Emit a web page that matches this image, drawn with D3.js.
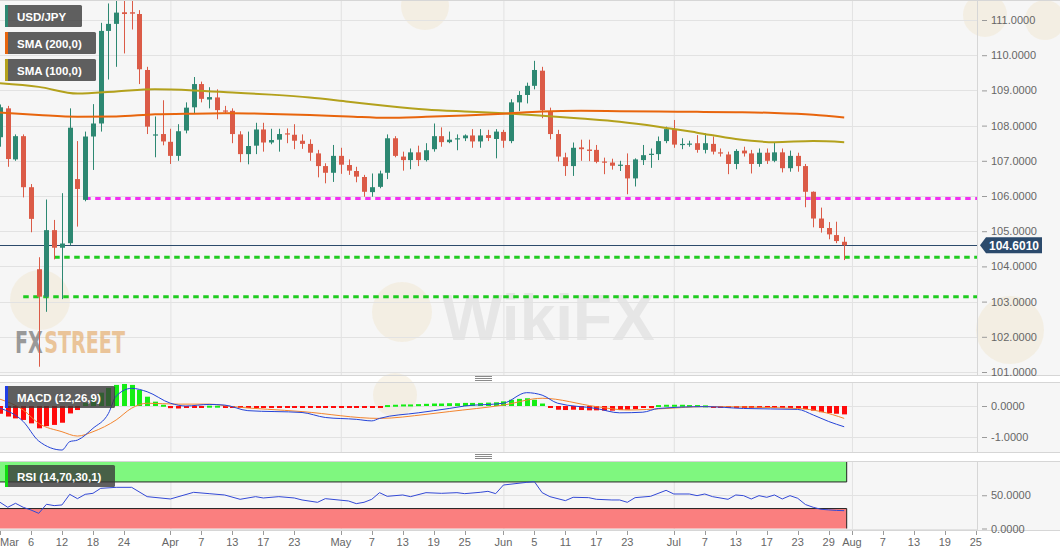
<!DOCTYPE html>
<html>
<head>
<meta charset="utf-8">
<script src="https://cdn.jsdelivr.net/npm/d3@7"></script>
<style>
    html, body { margin: 0; padding: 0; background: #fff; }
    svg { display: block; font-family: "Liberation Sans", Arial, sans-serif; }
</style>
</head>
<body>
<svg id="chart" width="1060" height="555"></svg>
<script>
// -- DATA: daily USD/JPY candles, 2 Mar .. 31 Jul 2020 --
const opens = [107.67, 108.49, 107.04, 107.70, 106.25, 103.92, 103.14, 105.03, 104.53, 104.66,
    106.48, 105.89, 107.69, 108.06, 110.69, 110.89, 111.22, 111.22, 111.17, 109.58,
    107.72, 107.76, 107.54, 107.14, 107.86, 108.52, 109.18, 108.74, 108.80, 108.43,
    108.42, 107.75, 107.19, 107.43, 107.89, 107.52, 107.60, 107.78, 107.74, 107.57,
    107.48, 107.21, 106.85, 106.66, 107.14, 106.88, 106.71, 106.54, 106.11, 106.26,
    106.66, 107.64, 107.12, 107.02, 107.24, 107.02, 107.33, 107.70, 107.53, 107.62,
    107.64, 107.72, 107.55, 107.73, 107.62, 107.82, 107.56, 108.66, 108.87, 109.13,
    109.56, 108.39, 107.76, 107.10, 106.85, 107.38, 107.32, 107.31, 106.98, 106.95,
    106.86, 106.88, 106.50, 107.02, 107.17, 107.19, 107.56, 107.90, 107.46, 107.47,
    107.50, 107.31, 107.48, 107.24, 107.18, 106.91, 107.29, 107.21, 106.91, 107.23,
    107.00, 107.24, 106.79, 107.14, 106.85, 106.12, 105.36, 105.09, 104.89, 104.70];
const highs = [108.60, 108.56, 107.75, 107.75, 106.34, 104.26, 105.90, 105.32, 106.08, 108.49,
    107.56, 107.83, 108.61, 110.92, 111.47, 111.90, 112.00, 111.90, 111.28, 109.67,
    108.26, 108.72, 107.91, 108.04, 108.66, 109.38, 109.25, 109.09, 109.03, 108.56,
    108.49, 107.84, 107.83, 108.08, 108.08, 107.91, 107.91, 107.92, 108.04, 107.75,
    107.61, 107.31, 106.93, 107.45, 107.37, 107.04, 106.83, 106.60, 106.64, 106.72,
    107.75, 107.70, 107.26, 107.35, 107.43, 107.50, 108.06, 107.95, 107.83, 107.75,
    107.75, 107.90, 107.90, 107.88, 107.90, 107.88, 108.75, 108.98, 109.22, 109.84,
    109.67, 108.51, 107.88, 107.23, 107.52, 107.60, 107.60, 107.45, 107.09, 107.06,
    107.00, 107.21, 107.07, 107.45, 107.35, 107.69, 107.97, 108.16, 107.64, 107.57,
    107.73, 107.78, 107.69, 107.35, 107.26, 107.33, 107.40, 107.31, 107.35, 107.35,
    107.52, 107.35, 107.29, 107.23, 106.91, 106.13, 105.67, 105.26, 105.27, 104.84];
const lows = [107.40, 106.83, 107.00, 105.96, 104.97, 101.15, 102.71, 104.20, 103.07, 104.60,
    105.13, 105.85, 106.74, 107.83, 109.31, 109.67, 110.05, 110.73, 109.18, 107.76,
    107.10, 107.44, 106.91, 107.00, 107.78, 108.35, 108.66, 108.49, 108.18, 108.33,
    107.50, 106.96, 106.90, 107.19, 107.26, 107.47, 107.26, 107.50, 107.33, 107.34,
    107.00, 106.53, 106.36, 106.40, 106.63, 106.60, 106.39, 105.98, 105.98, 106.22,
    106.48, 107.10, 106.72, 106.76, 106.85, 106.98, 107.26, 107.40, 107.50, 107.30,
    107.56, 107.37, 107.37, 107.56, 107.07, 107.37, 107.50, 108.41, 108.63, 109.03,
    108.21, 107.61, 106.98, 106.57, 106.57, 107.00, 106.99, 106.93, 106.62, 106.75,
    106.71, 106.05, 106.27, 106.88, 106.80, 107.02, 107.50, 107.37, 107.33, 107.40,
    107.23, 107.21, 107.18, 107.12, 106.62, 106.76, 107.12, 106.64, 106.83, 106.91,
    106.96, 106.67, 106.69, 106.69, 105.68, 105.11, 104.96, 104.77, 104.66, 104.18];
const closes = [108.52, 107.05, 107.70, 106.25, 105.35, 103.14, 105.03, 104.53, 104.65, 107.94,
    106.20, 107.69, 108.06, 110.69, 110.89, 111.21, 111.17, 111.18, 109.60, 107.97,
    107.75, 107.55, 107.14, 107.84, 108.51, 109.18, 108.76, 108.81, 108.44, 108.41,
    107.76, 107.19, 107.42, 107.89, 107.52, 107.59, 107.76, 107.76, 107.57, 107.48,
    107.23, 106.85, 106.66, 107.14, 106.89, 106.72, 106.55, 106.12, 106.25, 106.64,
    107.64, 107.14, 107.02, 107.24, 107.02, 107.30, 107.70, 107.53, 107.60, 107.64,
    107.72, 107.55, 107.72, 107.65, 107.83, 107.57, 108.66, 108.87, 109.13, 109.58,
    108.44, 107.76, 107.12, 106.85, 107.37, 107.33, 107.28, 106.97, 106.95, 106.86,
    106.89, 106.50, 107.04, 107.16, 107.20, 107.56, 107.90, 107.46, 107.48, 107.49,
    107.31, 107.50, 107.26, 107.22, 106.91, 107.28, 107.21, 106.91, 107.23, 107.00,
    107.24, 106.79, 107.14, 106.85, 106.12, 105.36, 105.09, 104.91, 104.72, 104.601];

// moving averages, read at every fifth candle
const smaIdx = [0, 5, 10, 15, 20, 25, 30, 35, 40, 45, 50, 55, 60, 65, 70, 75, 80, 85, 90, 95, 100, 105, 109];
const sma200 = [108.37, 108.30, 108.25, 108.26, 108.32, 108.34, 108.35, 108.33, 108.30, 108.26, 108.22, 108.25,
    108.29, 108.34, 108.40, 108.42, 108.41, 108.40, 108.39, 108.38, 108.36, 108.31, 108.23];
const sma100 = [109.20, 109.10, 108.91, 108.97, 109.03, 109.00, 108.94, 108.88, 108.80, 108.68, 108.56, 108.46,
    108.40, 108.35, 108.28, 108.20, 108.11, 107.97, 107.80, 107.62, 107.53, 107.56, 107.53];

// horizontal levels drawn on the chart
const levelValues = [105.93, 104.26, 103.14];
const levelStart = [11, 7, 3];
const levelColors = ["#f22ff2", "#1fcc1f", "#1fcc1f"];
const lastPrice = 104.601;

// MACD (12,26,9)
const macdHist = [-0.25, -0.34, -0.40, -0.45, -0.56, -0.72, -0.65, -0.61, -0.54, -0.24,
    -0.13, 0.10, 0.26, 0.43, 0.58, 0.68, 0.71, 0.68, 0.52, 0.30,
    0.14, 0.04, -0.07, -0.08, -0.06, -0.02, -0.01, 0.01, 0.01, -0.01,
    -0.04, -0.05, -0.05, -0.05, -0.06, -0.05, -0.05, -0.04, -0.05, -0.05,
    -0.06, -0.05, -0.05, -0.04, -0.05, -0.05, -0.05, -0.04, -0.05, -0.04,
    0.03, 0.04, 0.05, 0.05, 0.06, 0.07, 0.08, 0.08, 0.09, 0.09,
    0.10, 0.10, 0.10, 0.11, 0.12, 0.15, 0.20, 0.23, 0.25, 0.20,
    0.08, -0.03, -0.12, -0.13, -0.12, -0.13, -0.14, -0.14, -0.15, -0.15,
    -0.13, -0.12, -0.10, -0.06, -0.03, 0.03, 0.04, 0.04, 0.04, 0.03,
    0.03, 0.02, -0.02, -0.02, -0.03, -0.03, -0.02, -0.02, -0.02, -0.02,
    -0.03, -0.03, -0.02, -0.04, -0.10, -0.15, -0.20, -0.23, -0.25, -0.27];
const macdIdx = [0, 3, 5, 8, 9, 10, 12, 14, 15, 17, 19, 22, 24, 27, 29, 32, 39, 42, 46, 48, 49, 54, 58,
    60, 65, 68, 70, 72, 77, 80, 83, 85, 91, 96, 103, 105, 107, 109];
const macdLine = [-0.07, -0.50, -1.13, -1.42, -1.15, -1.10, -0.72, -0.24, 0.32, 0.57, 0.46, 0.09, 0.00, 0.05,
    0.03, -0.15, -0.21, -0.37, -0.43, -0.48, -0.40, -0.22, -0.08, 0.00, 0.09, 0.43, 0.35, 0.09, -0.08,
    -0.22, -0.20, -0.08, -0.02, -0.08, -0.11, -0.29, -0.50, -0.67];
const signalIdx = [0, 3, 5, 8, 10, 12, 15, 17, 19, 23, 27, 30, 39, 49, 55, 58, 65, 70, 77, 81, 86, 91, 103, 106, 109];
const signalLine = [0.22, -0.13, -0.56, -0.83, -0.97, -0.83, -0.45, -0.07, 0.09, 0.06, 0.06, -0.02, -0.18,
    -0.40, -0.27, -0.18, 0.03, 0.25, -0.02, -0.13, -0.08, -0.02, -0.08, -0.18, -0.40];

// RSI (14)
const rsiIdx = [0, 1, 2, 3, 4, 5, 6, 7, 8, 9, 10, 11, 12, 13, 15, 17, 19, 22, 25, 27, 29, 31, 33, 34, 36, 38,
    39, 41, 42, 45, 46, 47, 48, 49, 50, 52, 53, 55, 57, 59, 60, 62, 63, 64, 65, 68, 69, 70, 71, 73,
    74, 76, 77, 79, 80, 81, 82, 84, 86, 87, 89, 90, 91, 92, 94, 95, 96, 97, 98, 99, 100, 101, 102,
    103, 104, 105, 106, 107, 108, 109];
const rsiValues = [39.4, 31.9, 37.9, 31.9, 27.8, 22.8, 36.4, 34.4, 35.4, 51.4, 44.9, 51.4, 52.9, 60.4, 61.9,
    61.9, 47.9, 44.4, 54.4, 52.4, 50.4, 43.9, 47.9, 45.9, 47.9, 45.9, 42.9, 39.4, 44.9, 41.4, 37.4,
    39.4, 43.9, 53.9, 48.4, 50.4, 47.9, 53.9, 52.9, 53.9, 52.4, 54.4, 55.9, 52.4, 65.4, 69.4, 70.4,
    53.9, 47.9, 41.9, 46.9, 46.4, 43.9, 42.9, 42.9, 39.4, 46.4, 48.4, 57.4, 51.9, 51.9, 49.4, 51.9,
    47.9, 43.9, 50.4, 49.4, 44.4, 49.4, 46.9, 50.4, 44.4, 49.4, 45.4, 36.0, 31.9, 28.9, 28.0, 27.2, 26.8];

// axis ticks
const priceTicks = [101, 102, 103, 104, 105, 106, 107, 108, 109, 110, 111];
const macdTicks = [0, -1];
const rsiTicks = [50, 0];
const tickDates = ["2020-03-02", "2020-03-06", "2020-03-12", "2020-03-18", "2020-03-24",
    "2020-04-01", "2020-04-07", "2020-04-13", "2020-04-17", "2020-04-23",
    "2020-05-01", "2020-05-07", "2020-05-13", "2020-05-19", "2020-05-25",
    "2020-06-01", "2020-06-05", "2020-06-11", "2020-06-17", "2020-06-23",
    "2020-07-01", "2020-07-07", "2020-07-13", "2020-07-17", "2020-07-23", "2020-07-29",
    "2020-08-03", "2020-08-07", "2020-08-13", "2020-08-19", "2020-08-25"];
const tickLabels = ["Mar", "6", "12", "18", "24", "Apr", "7", "13", "17", "23",
    "May", "7", "13", "19", "25", "Jun", "5", "11", "17", "23",
    "Jul", "7", "13", "17", "23", "29", "Aug", "7", "13", "19", "25"];

// trading-day number counted from the first candle (weekdays only)
function dayIndex(str) {
    let t = new Date(Date.UTC(2020, 2, 2));
    const end = new Date(str + "T00:00:00Z");
    let n = 0;
    while (t < end) {
        t.setUTCDate(t.getUTCDate() + 1);
        const w = t.getUTCDay();
        if (w !== 0 && w !== 6) n++;
    }
    return n;
}

// -- LAYOUT --
const svg = d3.select("#chart");
const plotR = 977;
const mainP = { top: 0, bottom: 375 };
const macdP = { top: 382, bottom: 452 };
const rsiP = { top: 461, bottom: 530 };

const x = d3.scaleLinear().domain([0, 109]).range([0, 844.2]);
const yP = d3.scaleLinear().domain([101, 111]).range([372, 20]);
const yM = d3.scaleLinear().domain([-1, 0]).range([437, 406]);
const yR = d3.scaleLinear().domain([0, 100]).range([528.5, 462]);

const up = "#2d8872", down = "#db5b47";
const gridC = "#e2e2e2", frameC = "#d6d6d6", labelC = "#666";
const tickIdx = tickDates.map(dayIndex);
const monthIdx = tickIdx.filter((d, i) => isNaN(+tickLabels[i]) && i > 0);

const defs = svg.append("defs");
defs.append("clipPath").attr("id", "clipMain")
    .append("rect").attr("x", 0).attr("y", mainP.top).attr("width", plotR).attr("height", mainP.bottom - mainP.top);

// -- PANELS --
[mainP, macdP, rsiP].forEach(p => {
    svg.append("rect").attr("x", 0).attr("y", p.top).attr("width", 1060).attr("height", p.bottom - p.top)
        .attr("fill", "#f6f6f6");
    svg.selectAll(null).data(monthIdx).enter().append("line")
        .attr("x1", d => x(d) + 0.5).attr("x2", d => x(d) + 0.5)
        .attr("y1", p.top).attr("y2", p.bottom)
        .attr("stroke", gridC);
});

// watermarks (shapes only, plus the central word mark)
const wm = svg.append("g").attr("pointer-events", "none");
[[402, 312, 30], [425, 6, 24], [1010, 330, 34], [985, 15, 22], [1045, 20, 20], [395, 395, 22], [40, 300, 30]].forEach(c => {
    wm.append("circle").attr("cx", c[0]).attr("cy", c[1]).attr("r", c[2]).attr("fill", "#f1e3c9").attr("opacity", 0.4);
});
wm.append("text").attr("x", 442).attr("y", 340).attr("font-size", 64).attr("font-weight", "bold")
    .attr("fill", "#d9d9d9").attr("opacity", 0.55).text("WikiFX");

// horizontal grid
svg.selectAll(".gp").data(priceTicks).enter().append("line")
    .attr("x1", 0).attr("x2", plotR).attr("y1", d => Math.round(yP(d)) + 0.5).attr("y2", d => Math.round(yP(d)) + 0.5)
    .attr("stroke", gridC);
svg.selectAll(".gm").data(macdTicks).enter().append("line")
    .attr("x1", 0).attr("x2", plotR).attr("y1", d => Math.round(yM(d)) + 0.5).attr("y2", d => Math.round(yM(d)) + 0.5)
    .attr("stroke", gridC);
svg.selectAll(".gr").data(rsiTicks).enter().append("line")
    .attr("x1", 0).attr("x2", plotR).attr("y1", d => Math.round(yR(d)) + 0.5).attr("y2", d => Math.round(yR(d)) + 0.5)
    .attr("stroke", gridC);

// FXStreet logo: two words, squeezed together to the logo width
const logo = svg.append("g").attr("opacity", 0.75);
const fxT = logo.append("text").attr("x", 0).attr("y", 0).attr("font-size", 31).attr("font-weight", "bold")
    .attr("font-family", "'DejaVu Sans Condensed', 'Liberation Sans Narrow', sans-serif")
    .attr("fill", "#7b7b7b").text("FX");
const fxW = fxT.node().getComputedTextLength();
const stT = logo.append("text").attr("x", fxW + 2).attr("y", 0).attr("font-size", 31).attr("font-weight", "bold")
    .attr("font-family", "'DejaVu Sans Condensed', 'Liberation Sans Narrow', sans-serif")
    .attr("fill", "#e6b47a").text("STREET");
const logoW = fxW + 2 + stT.node().getComputedTextLength();
logo.attr("transform", `translate(15,353) scale(${110 / logoW},1)`);

// -- MAIN CHART --
const main = svg.append("g").attr("clip-path", "url(#clipMain)");

// levels
levelValues.forEach((v, i) => {
    main.append("line")
        .attr("x1", x(levelStart[i])).attr("x2", plotR)
        .attr("y1", yP(v)).attr("y2", yP(v))
        .attr("stroke", levelColors[i]).attr("stroke-width", 3).attr("stroke-dasharray", "5.5,4.5");
});

// last price line
main.append("line").attr("x1", 0).attr("x2", plotR)
    .attr("y1", Math.round(yP(lastPrice)) + 0.5).attr("y2", Math.round(yP(lastPrice)) + 0.5)
    .attr("stroke", "#2c4a6b").attr("stroke-width", 1);

// candles
const candles = main.selectAll(".candle").data(d3.range(opens.length)).enter().append("g");
candles.append("line")
    .attr("x1", i => Math.round(x(i)) + 0.5).attr("x2", i => Math.round(x(i)) + 0.5)
    .attr("y1", i => yP(highs[i])).attr("y2", i => yP(lows[i]))
    .attr("stroke", i => closes[i] >= opens[i] ? up : down).attr("stroke-width", 1);
candles.append("rect")
    .attr("x", i => Math.round(x(i)) - 2)
    .attr("width", 5)
    .attr("y", i => yP(Math.max(opens[i], closes[i])))
    .attr("height", i => Math.max(1.2, Math.abs(yP(opens[i]) - yP(closes[i]))))
    .attr("fill", i => closes[i] >= opens[i] ? up : down);

// moving averages
const smaLine = vals => d3.line().curve(d3.curveMonotoneX)
    .x((d, k) => x(smaIdx[k])).y(d => yP(d))(vals);
main.append("path").attr("d", smaLine(sma100)).attr("fill", "none").attr("stroke", "#b3a11c").attr("stroke-width", 2);
main.append("path").attr("d", smaLine(sma200)).attr("fill", "none").attr("stroke", "#e8650d").attr("stroke-width", 2);

// -- MACD --
svg.selectAll(".hist").data(macdHist).enter().append("rect")
    .attr("x", (d, i) => Math.round(x(i)) - 2)
    .attr("width", 5)
    .attr("y", d => d >= 0 ? yM(d) : yM(0))
    .attr("height", d => Math.max(2, Math.abs(yM(d) - yM(0))))
    .attr("fill", d => d >= 0 ? "#14ee14" : "#ff0a0a");
svg.append("path")
    .attr("d", d3.line().x((d, k) => x(signalIdx[k])).y(d => yM(d)).curve(d3.curveMonotoneX)(signalLine))
    .attr("fill", "none").attr("stroke", "#f3852f").attr("stroke-width", 1);
svg.append("path")
    .attr("d", d3.line().x((d, k) => x(macdIdx[k])).y(d => yM(d)).curve(d3.curveMonotoneX)(macdLine))
    .attr("fill", "none").attr("stroke", "#2544d8").attr("stroke-width", 1);

// -- RSI --
const bandR = x(109) + 2.5;
svg.append("rect").attr("x", 0).attr("y", yR(100)).attr("width", bandR).attr("height", yR(70) - yR(100))
    .attr("fill", "#7ff77f");
svg.append("rect").attr("x", 0).attr("y", yR(30)).attr("width", bandR).attr("height", yR(0) - yR(30))
    .attr("fill", "#fa7f7f");
[70, 30].forEach(v => {
    svg.append("line").attr("x1", 0).attr("x2", bandR).attr("y1", yR(v)).attr("y2", yR(v))
        .attr("stroke", "#222").attr("stroke-width", 1);
});
svg.append("line").attr("x1", bandR).attr("x2", bandR).attr("y1", yR(100)).attr("y2", yR(70)).attr("stroke", "#222");
svg.append("line").attr("x1", bandR).attr("x2", bandR).attr("y1", yR(30)).attr("y2", yR(0)).attr("stroke", "#222");
svg.append("path")
    .attr("d", d3.line().x((d, k) => x(rsiIdx[k])).y(d => yR(d))(rsiValues))
    .attr("fill", "none").attr("stroke", "#3349d6").attr("stroke-width", 1);

// -- FRAMES --
[mainP, macdP, rsiP].forEach(p => {
    svg.append("line").attr("x1", 0).attr("x2", 1060).attr("y1", p.top + 0.5).attr("y2", p.top + 0.5).attr("stroke", frameC);
    svg.append("line").attr("x1", 0).attr("x2", 1060).attr("y1", p.bottom + 0.5).attr("y2", p.bottom + 0.5).attr("stroke", frameC);
    svg.append("line").attr("x1", plotR + 0.5).attr("x2", plotR + 0.5).attr("y1", p.top).attr("y2", p.bottom).attr("stroke", frameC);
});

// splitter handles
[378, 456].forEach(cy => {
    [-2, 0, 2].forEach(o => {
        svg.append("line").attr("x1", 475).attr("x2", 492).attr("y1", cy + o + 0.5).attr("y2", cy + o + 0.5)
            .attr("stroke", "#8a8a8a").attr("stroke-width", 1);
    });
});

// -- AXES --
function rightAxis(scale, ticks, fmt) {
    const g = svg.append("g").attr("transform", "translate(982,0)")
        .call(d3.axisRight(scale).tickValues(ticks).tickSize(5).tickPadding(4).tickFormat(fmt));
    g.select(".domain").remove();
    g.selectAll("line").attr("stroke", "#9a9a9a");
    g.selectAll("text").attr("fill", labelC).attr("font-size", 11).attr("font-family", "'Liberation Sans', Arial, sans-serif");
}
rightAxis(yP, priceTicks, d => d.toFixed(4));
rightAxis(yM, macdTicks, d => d.toFixed(4));
rightAxis(yR, rsiTicks, d => d.toFixed(4));

// price flag
const py = yP(lastPrice);
svg.append("path")
    .attr("d", `M980,${py} L986,${py - 8} L1042,${py - 8} L1042,${py + 8} L986,${py + 8} Z`)
    .attr("fill", "#2b4a6c");
svg.append("text").attr("x", 1014).attr("y", py + 4.5).attr("text-anchor", "middle")
    .attr("fill", "#fff").attr("font-size", 12).attr("font-weight", "bold").text(lastPrice.toFixed(4));

// x axis
const xa = svg.append("g");
xa.selectAll("line").data(tickIdx).enter().append("line")
    .attr("x1", d => Math.round(x(d)) + 0.5).attr("x2", d => Math.round(x(d)) + 0.5)
    .attr("y1", rsiP.bottom + 1).attr("y2", rsiP.bottom + 5)
    .attr("stroke", "#9a9a9a");
xa.selectAll("text").data(tickIdx).enter().append("text")
    .attr("x", d => x(d)).attr("y", 546)
    .attr("text-anchor", "middle").attr("fill", labelC).attr("font-size", 11)
    .text((d, i) => tickLabels[i])
    .each(function () {
        const w = this.getComputedTextLength();
        const cx = +this.getAttribute("x");
        if (cx - w / 2 < 0) this.setAttribute("x", w / 2);
    });

// -- LEGEND BOXES --
function legendBox(y, w, stripe, label) {
    svg.append("rect").attr("x", 5).attr("y", y).attr("width", w).attr("height", 22).attr("rx", 1.5)
        .attr("fill", "#3a3a3a").attr("opacity", 0.8);
    svg.append("rect").attr("x", 5).attr("y", y).attr("width", 3).attr("height", 22).attr("fill", stripe);
    svg.append("text").attr("x", 17).attr("y", y + 15.5).attr("fill", "#fff")
        .attr("font-size", 11.5).attr("font-weight", "bold").text(label);
}
legendBox(5, 77, "#2d8872", "USD/JPY");
legendBox(32, 91, "#e8650d", "SMA (200,0)");
legendBox(59, 91, "#b3a11c", "SMA (100,0)");
legendBox(386, 110, "#1f3ee6", "MACD (12,26,9)");
legendBox(465, 110, "#11dd11", "RSI (14,70,30,1)");
</script>
</body>
</html>
